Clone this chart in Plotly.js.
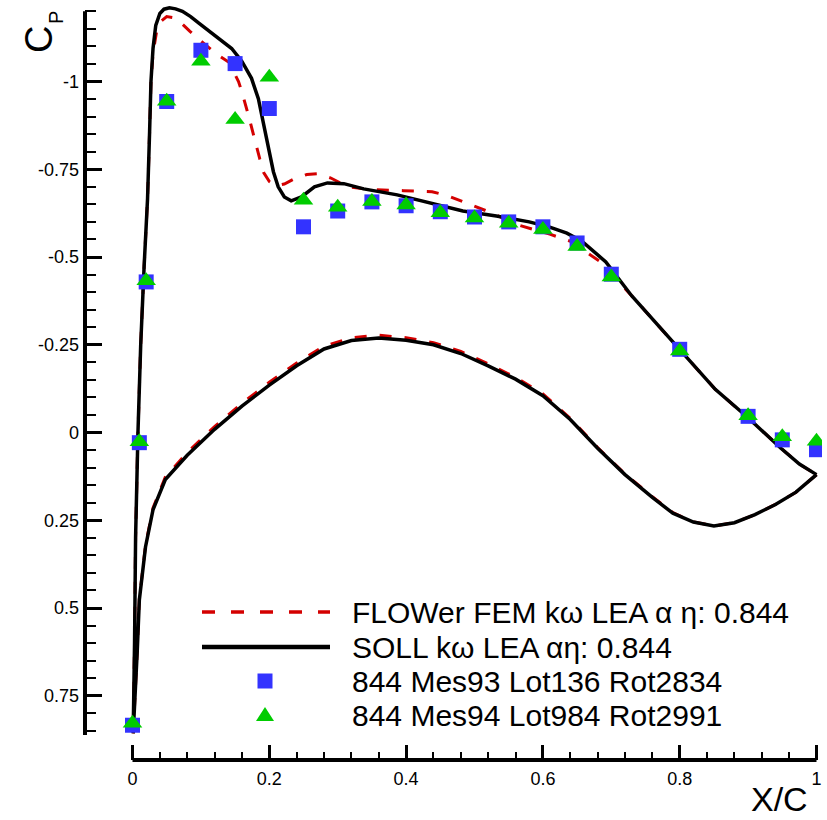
<!DOCTYPE html>
<html>
<head>
<meta charset="utf-8">
<script src="https://cdn.plot.ly/plotly-3.0.1.min.js"></script>
<style>html,body{margin:0;padding:0;background:#fff;}#chart{width:827px;height:820px;}</style>
</head>
<body>
<div id="chart"></div>
<script>
// ---- data ----
const flowerX = [1.000,0.970,0.940,0.910,0.880,0.850,0.820,0.790,0.760,0.720,0.680,0.640,0.600,0.560,0.520,0.480,0.440,0.400,0.360,0.320,0.280,0.240,0.200,0.160,0.120,0.080,0.048,0.030,0.019,0.010,0.007,0.004,0.001,
  0.003,0.0045,0.008,0.012,0.017,0.022,0.025,0.027,0.030,0.035,0.042,0.050,0.060,0.072,0.084,0.100,0.126,0.141,0.155,0.160,0.170,0.179,0.186,0.192,0.200,0.210,0.222,0.237,0.255,0.270,0.290,0.315,0.350,0.396,0.438,0.460,0.479,0.518,0.566,0.610,0.640,0.682,0.730,0.769,0.803,0.852,0.900,0.948,0.975,1.000];
const flowerCp = [0.120,0.170,0.205,0.234,0.257,0.266,0.255,0.228,0.183,0.118,0.043,-0.040,-0.110,-0.157,-0.196,-0.231,-0.256,-0.270,-0.277,-0.270,-0.246,-0.198,-0.143,-0.083,-0.017,0.057,0.127,0.215,0.322,0.475,0.620,0.763,0.857,
  0.600,0.300,0.000,-0.250,-0.474,-0.666,-0.857,-1.000,-1.080,-1.140,-1.172,-1.185,-1.182,-1.165,-1.143,-1.115,-1.074,-1.055,-1.000,-0.970,-0.900,-0.830,-0.780,-0.740,-0.715,-0.703,-0.708,-0.723,-0.735,-0.737,-0.725,-0.700,-0.692,-0.689,-0.686,-0.675,-0.660,-0.631,-0.590,-0.565,-0.545,-0.489,-0.389,-0.303,-0.229,-0.123,-0.042,0.045,0.090,0.120];

const sollX = [1.000,0.970,0.940,0.910,0.880,0.850,0.820,0.790,0.760,0.720,0.680,0.640,0.600,0.560,0.520,0.480,0.440,0.400,0.360,0.320,0.280,0.240,0.200,0.160,0.120,0.080,0.048,0.030,0.019,0.010,0.007,0.004,0.001,
  0.003,0.0045,0.008,0.012,0.017,0.022,0.025,0.027,0.030,0.034,0.040,0.046,0.054,0.063,0.073,0.085,0.097,0.120,0.145,0.160,0.174,0.184,0.192,0.198,0.206,0.213,0.222,0.232,0.247,0.266,0.285,0.309,0.338,0.387,0.435,0.483,0.532,0.580,0.610,0.635,0.657,0.692,0.730,0.769,0.803,0.852,0.900,0.948,0.975,1.000];
const sollCp = [0.120,0.170,0.205,0.234,0.257,0.266,0.255,0.230,0.185,0.120,0.045,-0.037,-0.105,-0.152,-0.190,-0.225,-0.250,-0.263,-0.269,-0.262,-0.238,-0.190,-0.135,-0.075,-0.009,0.065,0.134,0.220,0.326,0.477,0.620,0.763,0.857,
  0.600,0.300,0.000,-0.250,-0.474,-0.666,-0.857,-1.000,-1.094,-1.160,-1.194,-1.206,-1.210,-1.207,-1.200,-1.185,-1.166,-1.131,-1.094,-1.057,-1.009,-0.951,-0.874,-0.809,-0.743,-0.700,-0.671,-0.660,-0.671,-0.700,-0.711,-0.709,-0.694,-0.677,-0.655,-0.631,-0.617,-0.600,-0.585,-0.568,-0.545,-0.486,-0.389,-0.303,-0.229,-0.123,-0.042,0.045,0.090,0.120];

const mes93X  = [0,0.01,0.02,0.05,0.10,0.15,0.20,0.25,0.30,0.35,0.40,0.45,0.50,0.55,0.60,0.65,0.70,0.80,0.90,0.95,1.00];
const mes93Cp = [0.834,0.029,-0.429,-0.943,-1.089,-1.051,-0.923,-0.586,-0.631,-0.657,-0.646,-0.629,-0.614,-0.600,-0.586,-0.540,-0.451,-0.237,-0.046,0.021,0.049];

const mes94X  = [0,0.01,0.02,0.05,0.10,0.15,0.20,0.25,0.30,0.35,0.40,0.45,0.50,0.55,0.60,0.65,0.70,0.80,0.90,0.95,1.00];
const mes94Cp = [0.828,0.026,-0.432,-0.944,-1.058,-0.892,-1.012,-0.662,-0.642,-0.658,-0.648,-0.626,-0.611,-0.596,-0.578,-0.530,-0.443,-0.232,-0.048,0.012,0.025];

const xTickVals = [0,0.2,0.4,0.6,0.8,1];
const xTickText = ["0","0.2","0.4","0.6","0.8","1"];
const yTickVals = [-1,-0.75,-0.5,-0.25,0,0.25,0.5,0.75];
const yTickText = ["-1","-0.75","-0.5","-0.25","0","0.25","0.5","0.75"];

const legendNames = ["FLOWer FEM kω LEA α η: 0.844","SOLL kω LEA αη: 0.844","844 Mes93 Lot136 Rot2834","844 Mes94 Lot984 Rot2991"];

// ---- styling / layout ----
const RED = "#d40000", BLUE = "#3333ff", GREEN = "#00cc00";
const FONT = "Liberation Sans, Arial, Helvetica, sans-serif";
const L = 85, R = 822, T = 5, B = 760, W = 827, H = 820;
const X0PX = 132.5, XSC = 684, Y0PX = 432.5, YSC = 351;
const px = v => (v - L) / (R - L);
const py = v => (B - v) / (B - T);

const xMinor = [], yMinor = [];
for (let i = 0; i <= 25; i++) { const v = +(i * 0.04).toFixed(2); if (Math.abs(v / 0.2 - Math.round(v / 0.2)) > 1e-6) xMinor.push(v); }
for (let i = -24; i <= 17; i++) { const v = +(i * 0.05).toFixed(2); if (Math.abs(v / 0.25 - Math.round(v / 0.25)) > 1e-6) yMinor.push(v); }

const traces = [
  {x: flowerX, y: flowerCp, mode: "lines", line: {color: RED, width: 3, dash: "12px,13px"}, name: legendNames[0], showlegend: false},
  {x: sollX, y: sollCp, mode: "lines", line: {color: "#000", width: 3.5}, name: legendNames[1], showlegend: false},
  {x: mes93X, y: mes93Cp, mode: "markers", marker: {symbol: "square", size: 15, color: BLUE, line: {width: 0}}, name: legendNames[2], showlegend: false},
  {x: mes94X, y: mes94Cp, mode: "markers", marker: {symbol: "triangle-up", size: 17, color: GREEN, line: {width: 0}}, name: legendNames[3], showlegend: false}
];

const legRows = [612, 647, 681, 715];
const shapes = [
  // axis lines
  {type: "line", xref: "paper", yref: "y", x0: 0, x1: 0, y0: -1.2, y1: 0.862, line: {color: "#000", width: 4}},
  {type: "line", xref: "x", yref: "paper", x0: 0, x1: 1, y0: 0, y1: 0, line: {color: "#000", width: 4}},
  // legend glyphs
  {type: "line", xref: "paper", yref: "paper", x0: px(202), x1: px(330), y0: py(legRows[0]), y1: py(legRows[0]), line: {color: RED, width: 3.5, dash: "13px,16px"}},
  {type: "line", xref: "paper", yref: "paper", x0: px(202), x1: px(330), y0: py(legRows[1]), y1: py(legRows[1]), line: {color: "#000", width: 4.5}},
  {type: "rect", xref: "paper", yref: "paper", x0: px(257.5), x1: px(272.5), y0: py(legRows[2] + 7.5), y1: py(legRows[2] - 7.5), fillcolor: BLUE, line: {width: 0}},
  {type: "path", xref: "paper", yref: "paper",
   path: `M ${px(256)} ${py(legRows[3] + 6)} L ${px(274)} ${py(legRows[3] + 6)} L ${px(265)} ${py(legRows[3] - 8)} Z`,
   fillcolor: GREEN, line: {width: 0}}
];

const annotations = legendNames.map((t, i) => ({
  xref: "paper", yref: "paper", x: px(350), y: py(legRows[i]), xanchor: "left", yanchor: "middle",
  text: t, showarrow: false, font: {family: FONT, size: 30, color: "#000"}
}));
// axis titles (Cp drawn rotated, as in the reference)
annotations.push({xref: "paper", yref: "paper", x: px(39), y: py(40), xanchor: "center", yanchor: "middle",
  text: "C", textangle: -90, showarrow: false, font: {family: FONT, size: 38, color: "#000"}});
annotations.push({xref: "paper", yref: "paper", x: px(56), y: py(18), xanchor: "center", yanchor: "middle",
  text: "P", textangle: -90, showarrow: false, font: {family: FONT, size: 20, color: "#000"}});
annotations.push({xref: "paper", yref: "paper", x: px(809), y: py(819), xanchor: "right", yanchor: "bottom",
  text: "X/C", showarrow: false, borderpad: 0, font: {family: FONT, size: 34, color: "#000"}});

const layout = {
  width: W, height: H,
  margin: {l: L, r: W - R, t: T, b: H - B, pad: 0},
  paper_bgcolor: "#fff", plot_bgcolor: "#fff",
  showlegend: false,
  font: {family: FONT, color: "#000"},
  xaxis: {
    range: [(L - X0PX) / XSC, (R - X0PX) / XSC], showgrid: false, zeroline: false, showline: false,
    tickmode: "array", tickvals: xTickVals, ticktext: xTickText,
    ticks: "inside", ticklen: 15, tickwidth: 3, tickcolor: "#000",
    tickfont: {family: FONT, size: 18, color: "#000"}, ticklabelstandoff: 6,
    minor: {tickmode: "array", tickvals: xMinor, ticks: "inside", ticklen: 8, tickwidth: 2, tickcolor: "#000", showgrid: false}
  },
  yaxis: {
    range: [(B - Y0PX) / YSC, (T - Y0PX) / YSC], showgrid: false, zeroline: false, showline: false,
    tickmode: "array", tickvals: yTickVals, ticktext: yTickText,
    ticks: "inside", ticklen: 17, tickwidth: 3, tickcolor: "#000",
    tickfont: {family: FONT, size: 18, color: "#000"}, ticklabelstandoff: 5,
    minor: {tickmode: "array", tickvals: yMinor, ticks: "inside", ticklen: 11, tickwidth: 2, tickcolor: "#000", showgrid: false}
  },
  shapes: shapes,
  annotations: annotations
};

Plotly.newPlot("chart", traces, layout, {displayModeBar: false, staticPlot: true});
</script>
</body>
</html>
